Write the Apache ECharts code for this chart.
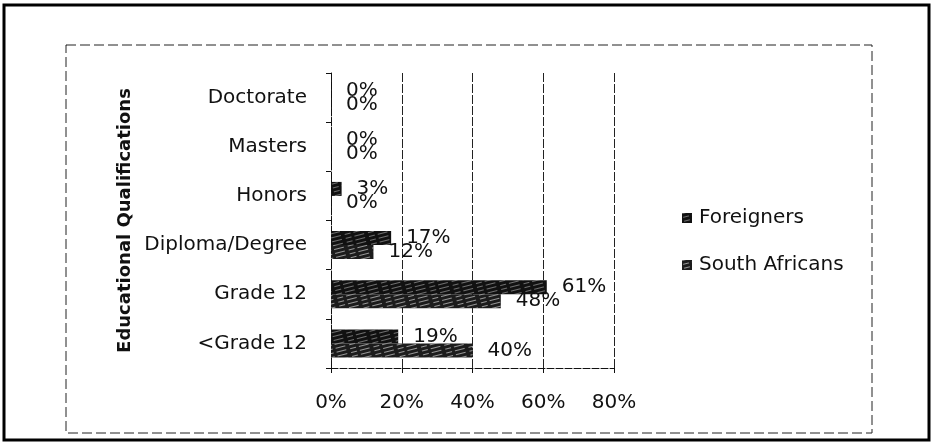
<!DOCTYPE html>
<html>
<head>
<meta charset="utf-8">
<script src="https://cdn.jsdelivr.net/npm/echarts@6/dist/echarts.min.js"></script>
<style>
  html, body { margin: 0; padding: 0; background: #fff; }
  #chart { width: 933px; height: 443px; }
</style>
</head>
<body>
<div id="chart"></div>
<script>
// categories bottom -> top (ECharts draws first category at the bottom)
const categories = ['<Grade 12', 'Grade 12', 'Diploma/Degree', 'Honors', 'Masters', 'Doctorate']
const foreigners = [19, 61, 17, 3, 0, 0]
const southAfricans = [40, 48, 12, 0, 0, 0]
const xTicks = [0, 20, 40, 60, 80]

const font = 'DejaVu Sans'

// hatch texture like the scanned Excel pattern fill
function hatch(alpha) {
  return {
    symbol: 'rect',
    symbolSize: 1,
    dashArrayX: [[6, 3, 10, 4]],
    dashArrayY: [1, 3],
    rotation: -0.25,
    color: 'rgba(255,255,255,' + alpha + ')'
  }
}

const chart = echarts.init(document.getElementById('chart'))

const barLabel = {
  show: true,
  position: 'right',
  distance: 15,
  formatter: '{c}%',
  fontFamily: font,
  fontSize: 20,
  color: '#111'
}

const option = {
  animation: false,
  backgroundColor: '#fff',
  textStyle: { fontFamily: font },
  grid: { left: 331, right: 319, top: 73, bottom: 75, containLabel: false },
  legend: {
    orient: 'vertical',
    left: 677,
    top: 203,
    itemWidth: 10,
    itemHeight: 10,
    itemGap: 27,
    icon: 'rect',
    data: ['Foreigners', 'South Africans'],
    textStyle: { fontFamily: font, fontSize: 20, color: '#111', padding: [0, 0, 0, 2] }
  },
  xAxis: {
    type: 'value',
    min: xTicks[0],
    max: xTicks[xTicks.length - 1],
    interval: 20,
    axisLine: { show: true, lineStyle: { color: '#111', width: 1, type: [7, 2] } },
    axisTick: { show: true, length: 5, lineStyle: { color: '#111' } },
    axisLabel: {
      formatter: '{value}%',
      fontFamily: font,
      fontSize: 20,
      color: '#111',
      margin: 25
    },
    splitLine: { show: true, lineStyle: { color: '#222', width: 1, type: [9, 2] } }
  },
  yAxis: {
    type: 'category',
    data: categories,
    name: 'Educational Qualifications',
    nameLocation: 'middle',
    nameRotate: 90,
    nameGap: 197,
    nameTextStyle: { fontFamily: font, fontSize: 18, fontWeight: 'bold', color: '#111' },
    axisLine: { show: true, lineStyle: { color: '#111', width: 1, type: [7, 2] } },
    axisTick: { show: true, length: 5, lineStyle: { color: '#111' } },
    axisLabel: { fontFamily: font, fontSize: 20, color: '#111', margin: 24 },
    splitLine: { show: false }
  },
  series: [
    {
      name: 'Foreigners',
      type: 'bar',
      data: foreigners,
      barWidth: 14,
      barGap: '0%',
      itemStyle: { color: '#111', decal: hatch(0.4) },
      label: barLabel
    },
    {
      name: 'South Africans',
      type: 'bar',
      data: southAfricans,
      barWidth: 14,
      barGap: '0%',
      itemStyle: { color: '#1c1c1c', decal: hatch(0.55) },
      label: barLabel
    }
  ],
  graphic: [
    {
      type: 'rect',
      silent: true,
      shape: { x: 4, y: 5, width: 925, height: 435 },
      style: { fill: null, stroke: '#000', lineWidth: 3 }
    },
    {
      type: 'rect',
      silent: true,
      shape: { x: 66, y: 45, width: 806, height: 388 },
      style: { fill: null, stroke: '#222', lineWidth: 1, lineDash: [10, 4] }
    }
  ]
}

chart.setOption(option)
</script>
</body>
</html>
